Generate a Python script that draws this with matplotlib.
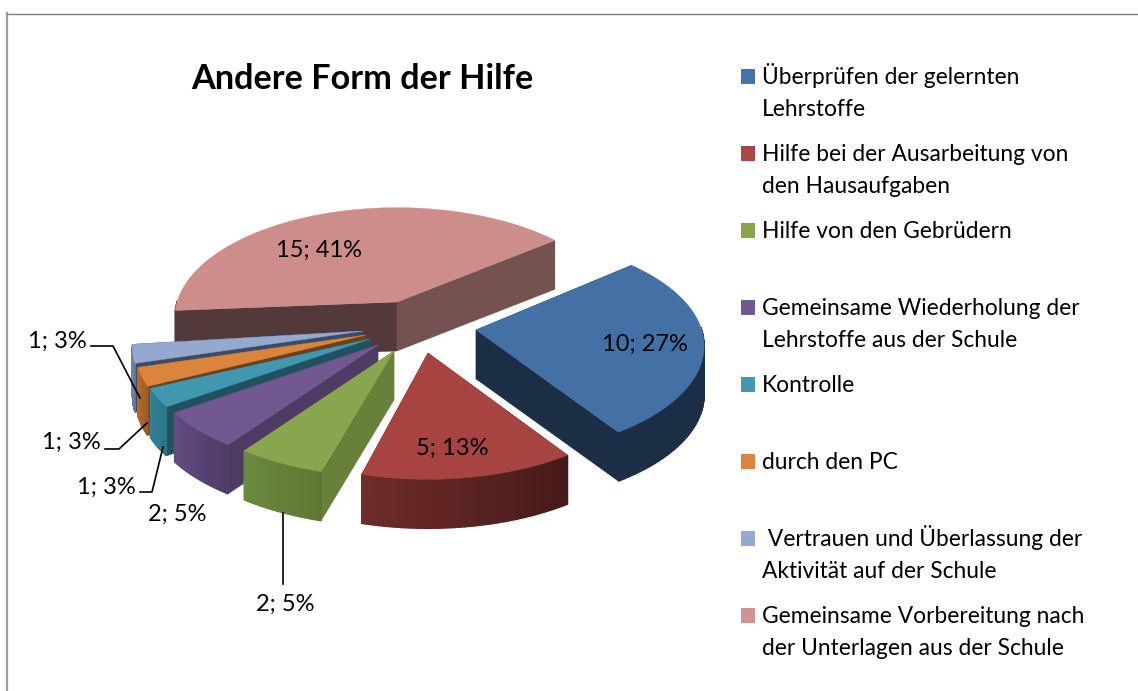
import numpy as np
import matplotlib
matplotlib.use('Agg')
import matplotlib.pyplot as plt

title = 'Andere Form der Hilfe'
values = [10, 5, 2, 2, 1, 1, 1, 15]
percents = [27, 13, 5, 5, 3, 3, 3, 41]
legend_lines = [['Überprüfen der gelernten', 'Lehrstoffe'],
                ['Hilfe bei der Ausarbeitung von', 'den Hausaufgaben'],
                ['Hilfe von den Gebrüdern'],
                ['Gemeinsame Wiederholung der', 'Lehrstoffe aus der Schule'],
                ['Kontrolle'],
                ['durch den PC'],
                [' Vertrauen und Überlassung der', 'Aktivität auf der Schule'],
                ['Gemeinsame Vorbereitung nach', 'der Unterlagen aus der Schule']]

top_colors = ['#4371a6', '#a74442', '#89a54e', '#71588f', '#4198af', '#db843d', '#93a9cf', '#cd8d8b']
legend_colors = ['#4572a7', '#aa4643', '#89a54e', '#71588f', '#4198af', '#db843d', '#93a9cf', '#d19392']
rim_left = ['#1b2e45', '#6e2c2a', '#6c8a3f', '#634c80', '#338397', '#b56a2c', '#6f83a5', '#53393a']
rim_right = ['#1b2e45', '#451a18', '#5f7733', '#4e3c6a', '#2a7488', '#9c5a24', '#5f7290', '#53393a']
wall_start = ['#1b2e45', '#5a2322', '#67803a', '#4d3b63', '#21525f', '#6b4020', '#3c4c66', '#53393a']
wall_end = ['#1b2e45', '#5a2322', '#67803a', '#4d3b63', '#21525f', '#6b4020', '#3c4c66', '#735250']
apex_x = [476, 428, 394, 378, 370, 366, 363, 397]
apex_y = [330, 353, 351, 345, 339, 335, 331, 302]
angle_shift = [-1, -1, -2, -2, -2, -1, -1, -3.5]
radius_scale = [0.99, 0.97, 1, 1, 1, 1, 1, 0.965]
draw_order = [7, 6, 5, 4, 3, 2, 1, 0]

start_deg = 42.
a = 228.
b = 108.
k = 0.145
depth = 49.


def project(t, x0, y0, r):
    # flat circle seen from above, nearer part is bigger
    s = 1. / (1 + k * np.sin(t))
    return x0 + r * a * np.cos(t) * s, y0 - b * np.sin(t) * s


fig = plt.figure(figsize=(11.38, 6.91), dpi=100)
ax = fig.add_axes([0, 0, 1, 1])
ax.set_xlim(0, 1138)
ax.set_ylim(691, 0)
ax.axis('off')
plt.rcParams['font.family'] = ['Lato', 'DejaVu Sans']

# frame of the screenshot
ax.plot([7.5, 7.5], [13, 691], color='#a0a0a0', lw=1.6)
ax.plot([7, 1138], [13.5, 13.5], color='#808080', lw=1.0)

shares = np.array(values) / float(sum(values)) * 360.
ends = start_deg - np.cumsum(shares)
starts = ends + shares

for i in draw_order:
    z = 1 + draw_order.index(i)
    t = np.radians(np.linspace(starts[i], ends[i], 60) + angle_shift[i])
    x, y = project(t, apex_x[i], apex_y[i], radius_scale[i])
    x0, y0 = apex_x[i], apex_y[i]
    # radial walls
    ax.fill([x0, x[0], x[0], x0], [y0, y[0], y[0] + depth, y0 + depth], color=wall_start[i], lw=0.3, zorder=z)
    ax.fill([x0, x[-1], x[-1], x0], [y0, y[-1], y[-1] + depth, y0 + depth], color=wall_end[i], lw=0.3, zorder=z)
    # outer wall, shaded in strips, only the part facing us
    c1 = np.array(matplotlib.colors.to_rgb(rim_right[i]))
    c2 = np.array(matplotlib.colors.to_rgb(rim_left[i]))
    for j in range(len(t) - 1):
        if np.sin(t[j]) > 0 and np.sin(t[j + 1]) > 0:
            continue
        f = j / (len(t) - 2.)
        ax.fill([x[j], x[j + 1], x[j + 1], x[j]],
                [y[j], y[j + 1], y[j + 1] + depth, y[j] + depth],
                color=c1 + (c2 - c1) * f, lw=1.0, zorder=z)
    ax.fill(np.r_[x0, x], np.r_[y0, y], color=top_colors[i], lw=0.3, zorder=z)

ax.text(362, 79, title, fontsize=24.7, fontweight='bold', ha='center', va='center', color='black')

# data labels
label_x = [645, 452, 285, 177, 106, 71, 57, 319]
label_y = [351, 455, 611, 521, 494, 449, 348, 257]
for i in range(len(values)):
    ax.text(label_x[i], label_y[i], '%d; %d%%' % (values[i], percents[i]), fontsize=17,
            ha='center', va='baseline', color='black', zorder=20)

# leader lines
ax.plot([283, 283], [513, 584], color='black', lw=1.2, zorder=15)
ax.plot([163, 152, 140], [447, 492, 492], color='black', lw=1.2, zorder=15)
ax.plot([147, 119, 105], [423, 449, 449], color='black', lw=1.2, zorder=15)
ax.plot([91, 113, 140], [346, 346, 398], color='black', lw=1.2, zorder=15)

# legend
legend_y = [76, 153, 230, 307, 384, 461, 538, 615]
for i in range(len(legend_lines)):
    ax.fill([741, 755, 755, 741], [legend_y[i] - 7, legend_y[i] - 7, legend_y[i] + 8, legend_y[i] + 8],
            color=legend_colors[i], lw=0)
    for n, line in enumerate(legend_lines[i]):
        ax.text(762, legend_y[i] + 8 + n * 32, line, fontsize=16.4, ha='left', va='baseline', color='black')

fig.savefig('out.png', dpi=100)
